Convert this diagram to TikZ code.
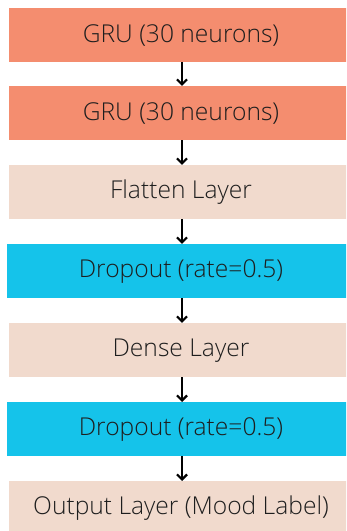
\documentclass[tikz,border=0pt]{standalone}
\usepackage{fontspec}
\IfFontExistsTF{Open Sans Light}{\setmainfont{Open Sans Light}}{\setmainfont{Open Sans}}
\usetikzlibrary{arrows.meta}
\definecolor{salmon}{HTML}{F48D6F}
\definecolor{beige}{HTML}{F1DACD}
\definecolor{cyanbox}{HTML}{15C3EA}
\definecolor{txt}{HTML}{1E1E1E}
\begin{document}
\begin{tikzpicture}[x=1pt,y=1pt,
  layer/.style={minimum width=344pt,minimum height=54pt,inner sep=0pt,
    font=\fontsize{24.6}{26}\selectfont,text=txt,anchor=north},
  flow/.style={line width=2.2pt,-{Straight Barb[length=5pt,width=10pt,line width=2.2pt]}}]
\useasboundingbox (0,0) rectangle (346,531);
\clip (0,0) rectangle (346,531);
\node[layer,fill=salmon] (g1) at (181,523) {GRU (30 neurons)};
\node[layer,fill=salmon] (g2) at (181,445) {GRU (30 neurons)};
\node[layer,fill=beige] (fl) at (181,366) {Flatten Layer};
\node[layer,fill=cyanbox,minimum width=348pt] (d1) at (181,287) {Dropout (rate=0.5)};
\node[layer,fill=beige] (de) at (181,208) {Dense Layer};
\node[layer,fill=cyanbox,minimum width=348pt] (d2) at (181,129) {Dropout (rate=0.5)};
\node[layer,fill=beige] (out) at (181,50) {Output Layer (Mood Label)};
\draw[flow] ([xshift=1pt]g1.south) -- ([xshift=1pt]g2.north);
\draw[flow] ([xshift=1pt]g2.south) -- ([xshift=1pt]fl.north);
\draw[flow] ([xshift=1pt]fl.south) -- ([xshift=1pt]d1.north);
\draw[flow] ([xshift=1pt]d1.south) -- ([xshift=1pt]de.north);
\draw[flow] ([xshift=1pt]de.south) -- ([xshift=1pt]d2.north);
\draw[flow] ([xshift=1pt]d2.south) -- ([xshift=1pt]out.north);
\end{tikzpicture}
\end{document}
